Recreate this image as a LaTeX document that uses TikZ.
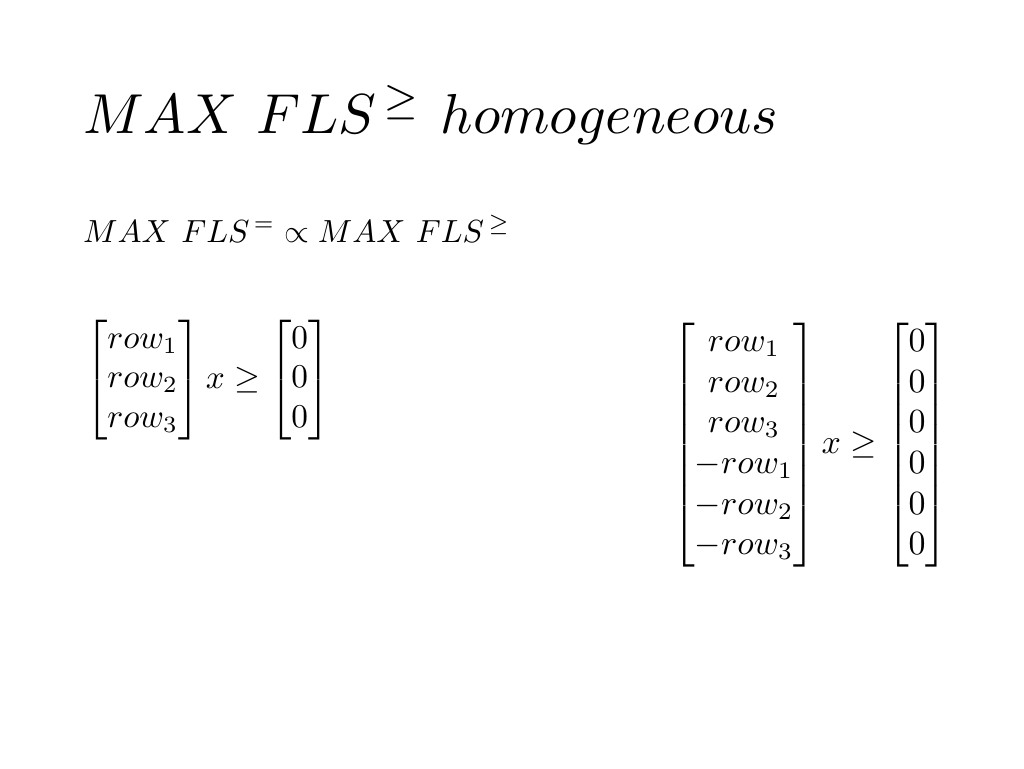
\documentclass[tikz,border=0pt]{standalone}
\usepackage{amsmath}
\usepackage{graphicx}
\begin{document}
\begin{tikzpicture}[x=1pt,y=-1pt,txt/.style={anchor=base west,inner sep=0pt}]
\useasboundingbox (0,0) rectangle (1024,768);
\node[txt] (t) at (83,133) {\resizebox{695pt}{!}{$MAX\ FLS^{\,\geq}\ homogeneous$}};
\node[txt] (s) at (83,242) {\resizebox{427pt}{!}{$MAX\ FLS^{\,=}\propto MAX\ FLS^{\,\geq}$}};
\node[anchor=west,inner sep=0pt] (m1) at (85,380) {\resizebox{245pt}{!}{$\begin{bmatrix}row_1\\row_2\\row_3\end{bmatrix}x\geq\begin{bmatrix}0\\0\\0\end{bmatrix}$}};
\node[anchor=west,inner sep=0pt] (m2) at (672,445) {\resizebox{276pt}{!}{$\begin{bmatrix}row_1\\row_2\\row_3\\-row_1\\-row_2\\-row_3\end{bmatrix}x\geq\begin{bmatrix}0\\0\\0\\0\\0\\0\end{bmatrix}$}};
\end{tikzpicture}
\end{document}
